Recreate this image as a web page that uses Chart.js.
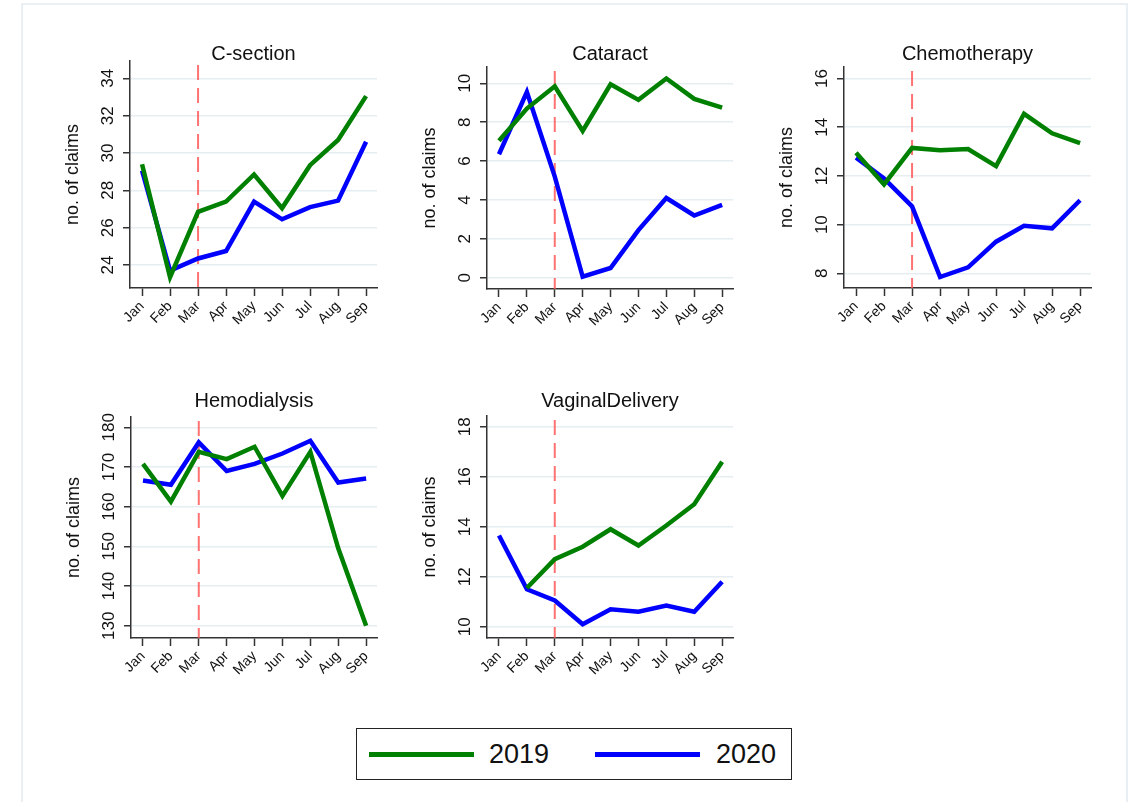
<!DOCTYPE html>
<html>
<head>
<meta charset="utf-8">
<script src="https://cdn.jsdelivr.net/npm/chart.js@4.4.1/dist/chart.umd.min.js"></script>
<style>
  body { margin: 0; background: #fff; width: 1132px; height: 802px; position: relative; overflow: hidden;
         font-family: "Liberation Sans", Arial, sans-serif; }
  #frame { position: absolute; left: 21px; top: 3px; width: 1107px; height: 900px; box-sizing: border-box;
           border: 2px solid #e9eff3; }
  canvas { position: absolute; }
  #legend { position: absolute; left: 356px; top: 728px; width: 436px; height: 52px; box-sizing: border-box;
            border: 1.5px solid #222; background: #fff; }
  #legend .sw { position: absolute; top: 23px; width: 105px; height: 5px; }
  #legend .lb { position: absolute; top: 10px; font-size: 27px; line-height: 30px; color: #111; }
</style>
</head>
<body>
<div id="frame"></div>
<div id="legend"></div>

<script>
// months on the x axis
const months = ["Jan", "Feb", "Mar", "Apr", "May", "Jun", "Jul", "Aug", "Sep"];
const seriesNames = ["2019", "2020"];
const seriesColors = ["#008000", "#0000ff"];

// no. of claims per month
const csection2019 = [29.4, 23.35, 26.85, 27.4, 28.85, 27.05, 29.35, 30.7, 33.05];
const csection2020 = [29.05, 23.7, 24.35, 24.75, 27.4, 26.45, 27.1, 27.45, 30.6];

const cataract2019 = [7.05, 8.7, 9.85, 7.55, 9.95, 9.15, 10.25, 9.2, 8.75];
const cataract2020 = [6.35, 9.55, 5.2, 0.05, 0.5, 2.45, 4.1, 3.2, 3.75];

const chemo2019 = [12.95, 11.65, 13.15, 13.05, 13.1, 12.4, 14.55, 13.75, 13.35];
const chemo2020 = [12.75, 11.9, 10.75, 7.85, 8.25, 9.3, 9.95, 9.85, 11.0];

const hemo2019 = [170.8, 161.3, 173.8, 172.0, 175.1, 162.7, 173.8, 149.5, 130.0];
const hemo2020 = [166.6, 165.5, 176.2, 169.0, 170.8, 173.4, 176.6, 166.1, 167.1];

const vaginal2019 = [null, 11.55, 12.7, 13.2, 13.9, 13.25, 14.05, 14.9, 16.6];
const vaginal2020 = [13.65, 11.5, 11.05, 10.1, 10.7, 10.6, 10.85, 10.6, 11.8];

const panelTitles = ["C-section", "Cataract", "Chemotherapy", "Hemodialysis", "VaginalDelivery"];
const panelData = [
  [csection2019, csection2020],
  [cataract2019, cataract2020],
  [chemo2019, chemo2020],
  [hemo2019, hemo2020],
  [vaginal2019, vaginal2020]
];
const yMins = [22.77, -0.58, 7.4, 126.9, 9.55];
const yMaxs = [34.93, 10.84, 16.47, 182.6, 18.43];
const ySteps = [2, 2, 2, 10, 2];

// where each panel sits on the page (axis x, right end, title centre, plot top, plot bottom)
const layout = [
  { axisX: 130, right: 377, titleY: 54, top: 61, bottom: 288, tickPad: 5 },
  { axisX: 487, right: 733, titleY: 54, top: 67, bottom: 289, tickPad: 5 },
  { axisX: 844, right: 1091, titleY: 54, top: 67, bottom: 288, tickPad: 5 },
  { axisX: 131, right: 377, titleY: 401, top: 417, bottom: 638, tickPad: 0.5 },
  { axisX: 487, right: 733, titleY: 401, top: 416, bottom: 638, tickPad: 5 }
];

Chart.defaults.font.family = '"Liberation Sans", Arial, sans-serif';
Chart.defaults.color = "#111";

const YW = 70, XH = 50, RP = 15;

// red dashed line at March
const marchLine = {
  id: "marchLine",
  beforeDatasetsDraw(chart) {
    const { ctx, chartArea, scales } = chart;
    const x = scales.x.getPixelForValue(2);
    ctx.save();
    ctx.strokeStyle = "rgba(255,80,80,0.8)";
    ctx.lineWidth = 2;
    ctx.setLineDash([15, 8]);
    ctx.beginPath();
    ctx.moveTo(x, chartArea.top + 4);
    ctx.lineTo(x, chartArea.bottom);
    ctx.stroke();
    ctx.restore();
  }
};

panelTitles.forEach((title, p) => {
  const L = layout[p];
  const canvas = document.createElement("canvas");
  const cLeft = L.axisX - YW;
  const cTop = L.titleY - 10 - 6;
  const w = YW + (L.right - L.axisX) + RP;
  const h = L.bottom - cTop + XH;
  canvas.width = w;
  canvas.height = h;
  canvas.style.left = cLeft + "px";
  canvas.style.top = cTop + "px";
  canvas.style.width = w + "px";
  canvas.style.height = h + "px";
  document.body.appendChild(canvas);

  new Chart(canvas, {
    type: "line",
    data: {
      datasets: panelData[p].map((vals, s) => ({
        label: seriesNames[s],
        data: vals.map((v, i) => ({ x: i, y: v })),
        borderColor: seriesColors[s],
        backgroundColor: seriesColors[s],
        borderWidth: 4.5,
        pointRadius: 0,
        tension: 0
      }))
    },
    options: {
      responsive: false,
      animation: false,
      layout: { padding: { top: 0, left: 0, right: RP, bottom: 0 } },
      plugins: {
        legend: { display: false },
        tooltip: { enabled: false },
        title: {
          display: true,
          fullSize: false,
          text: title,
          color: "#111",
          font: { size: 20, weight: "normal", lineHeight: 1 },
          padding: { top: 6, bottom: L.top - (L.titleY + 10) }
        }
      },
      scales: {
        x: {
          type: "linear",
          min: -0.43,
          max: 8.39,
          afterFit: (s) => { s.height = XH; },
          border: { display: true, color: "#333", width: 1.5 },
          grid: { drawOnChartArea: false, drawTicks: true, tickLength: 8, tickColor: "#333", tickWidth: 1.5 },
          ticks: {
            stepSize: 1,
            autoSkip: false,
            includeBounds: false,
            minRotation: 45,
            maxRotation: 45,
            padding: 2,
            color: "#111",
            font: { size: 14 },
            callback: (v) => months[v]
          }
        },
        y: {
          min: yMins[p],
          max: yMaxs[p],
          afterFit: (s) => { s.width = YW; },
          border: { display: true, color: "#333", width: 1.5 },
          grid: { color: "#e6eef1", lineWidth: 1.5, tickLength: 7, tickColor: "#333", tickWidth: 1.5 },
          title: {
            display: true,
            text: "no. of claims",
            color: "#111",
            font: { size: 18, lineHeight: 1.2 },
            padding: { top: 2, bottom: 0 }
          },
          ticks: {
            stepSize: ySteps[p],
            includeBounds: false,
            minRotation: 90,
            maxRotation: 90,
            crossAlign: "center",
            padding: L.tickPad,
            color: "#111",
            font: { size: 17 }
          }
        }
      }
    },
    plugins: [marchLine]
  });
});

// shared legend
const legend = document.getElementById("legend");
const swLeft = [12, 238], lbLeft = [132, 359];
seriesNames.forEach((name, s) => {
  const sw = document.createElement("span");
  sw.className = "sw";
  sw.style.left = swLeft[s] + "px";
  sw.style.background = seriesColors[s];
  legend.appendChild(sw);
  const lb = document.createElement("span");
  lb.className = "lb";
  lb.style.left = lbLeft[s] + "px";
  lb.textContent = name;
  legend.appendChild(lb);
});
</script>
</body>
</html>
